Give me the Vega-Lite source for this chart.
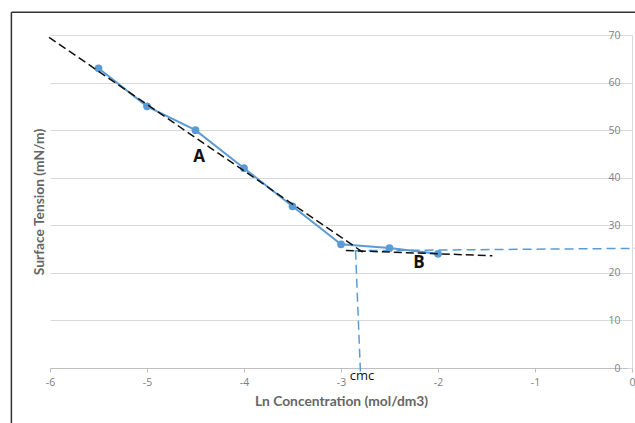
{
  "$schema": "https://vega.github.io/schema/vega-lite/v6.json",
  "width": 582,
  "height": 333,
  "autosize": {"type": "none"},
  "padding": {"left": 50, "top": 35, "right": 3, "bottom": 55},
  "background": "white",
  "config": {
    "view": {"stroke": null},
    "font": "Lato"
  },
  "datasets": {
    "tension": [
      {"lnc": -5.5, "st": 63},
      {"lnc": -5.0, "st": 55},
      {"lnc": -4.5, "st": 50},
      {"lnc": -4.0, "st": 42},
      {"lnc": -3.5, "st": 34},
      {"lnc": -3.0, "st": 26},
      {"lnc": -2.5, "st": 25.2},
      {"lnc": -2.0, "st": 24}
    ],
    "fits": [
      {"line": "A", "lnc": -6.01, "st": 69.5},
      {"line": "A", "lnc": -2.75, "st": 24.0},
      {"line": "B", "lnc": -2.95, "st": 24.7},
      {"line": "B", "lnc": -1.44, "st": 23.6}
    ],
    "cmcLines": [
      {"line": "h", "lnc": -2.86, "st": 24.65},
      {"line": "h", "lnc": 0.04, "st": 25.15},
      {"line": "v", "lnc": -2.85, "st": 24.65},
      {"line": "v", "lnc": -2.80, "st": -0.8}
    ],
    "labels": [
      {"text": "A", "lnc": -4.464, "st": 44.35, "kind": "big"},
      {"text": "B", "lnc": -2.196, "st": 22.07, "kind": "big"},
      {"text": "cmc", "lnc": -2.784, "st": -1.68, "kind": "small"}
    ],
    "frame": [
      {"x1": -6.398, "x2": 1, "ytop": 74.8, "ybot": -15}
    ]
  },
  "layer": [
    {
      "data": {"name": "frame"},
      "mark": {"type": "rule", "color": "#333333", "strokeWidth": 1.5, "clip": false},
      "encoding": {
        "x": {"field": "x1", "type": "quantitative"},
        "y": {"field": "ytop", "type": "quantitative"},
        "y2": {"field": "ybot"}
      }
    },
    {
      "data": {"name": "frame"},
      "mark": {"type": "rule", "color": "#333333", "strokeWidth": 1.5, "clip": false},
      "encoding": {
        "x": {"field": "x1", "type": "quantitative"},
        "x2": {"field": "x2"},
        "y": {"field": "ytop", "type": "quantitative"}
      }
    },
    {
      "data": {"name": "cmcLines"},
      "mark": {"type": "line", "color": "#5b9bd5", "strokeWidth": 1.5, "strokeDash": [9, 5], "clip": false},
      "encoding": {
        "x": {"field": "lnc", "type": "quantitative"},
        "y": {"field": "st", "type": "quantitative"},
        "detail": {"field": "line"}
      }
    },
    {
      "data": {"name": "tension"},
      "mark": {"type": "line", "color": "#5b9bd5", "strokeWidth": 2, "point": {"filled": true, "size": 60, "color": "#5b9bd5"}},
      "encoding": {
        "x": {
          "field": "lnc", "type": "quantitative",
          "scale": {"domain": [-6, 0], "nice": false, "zero": false},
          "axis": {
            "orient": "bottom",
            "values": [-6, -5, -4, -3, -2, -1, 0],
            "labelExpr": "datum.value + ''",
            "grid": false,
            "domainColor": "#bfbfbf",
            "tickColor": "#bfbfbf",
            "tickSize": 4,
            "labelColor": "#808080",
            "labelFontSize": 10.5,
            "labelFont": "Open Sans",
            "labelPadding": 5,
            "labelFlush": false,
            "title": "Ln Concentration (mol/dm3)",
            "titleFontSize": 13.8,
            "titleFontWeight": "bold",
            "titleColor": "#666666",
            "titleY": 33,
            "titleBaseline": "middle"
          }
        },
        "y": {
          "field": "st", "type": "quantitative",
          "scale": {"domain": [0, 70], "nice": false},
          "axis": {
            "orient": "left",
            "offset": -582,
            "values": [0, 10, 20, 30, 40, 50, 60, 70],
            "grid": true,
            "gridColor": "#d9d9d9",
            "domainColor": "#d9d9d9",
            "tickColor": "#d9d9d9",
            "tickSize": 5,
            "labelPadding": 7,
            "labelColor": "#808080",
            "labelFontSize": 10.5,
            "labelFont": "Open Sans",
            "title": "Surface Tension (mN/m)",
            "titleFontSize": 13.8,
            "titleFontWeight": "bold",
            "titleColor": "#666666",
            "titleAngle": -90,
            "titleX": -592.5,
            "titleY": 166.5,
            "titleAlign": "center",
            "titleBaseline": "middle"
          }
        }
      }
    },
    {
      "data": {"name": "fits"},
      "mark": {"type": "line", "color": "#111111", "strokeWidth": 1.5, "strokeDash": [8, 4]},
      "encoding": {
        "x": {"field": "lnc", "type": "quantitative"},
        "y": {"field": "st", "type": "quantitative"},
        "detail": {"field": "line"}
      }
    },
    {
      "data": {"name": "labels"},
      "transform": [{"filter": "datum.kind == 'big'"}],
      "mark": {"type": "text", "fontSize": 17, "fontWeight": "bold", "color": "#111111", "font": "Open Sans", "baseline": "middle", "align": "center"},
      "encoding": {
        "x": {"field": "lnc", "type": "quantitative"},
        "y": {"field": "st", "type": "quantitative"},
        "text": {"field": "text"}
      }
    },
    {
      "data": {"name": "labels"},
      "transform": [{"filter": "datum.kind == 'small'"}],
      "mark": {"type": "text", "fontSize": 13, "color": "#111111", "font": "Open Sans", "baseline": "middle", "align": "center", "clip": false},
      "encoding": {
        "x": {"field": "lnc", "type": "quantitative"},
        "y": {"field": "st", "type": "quantitative"},
        "text": {"field": "text"}
      }
    }
  ]
}
